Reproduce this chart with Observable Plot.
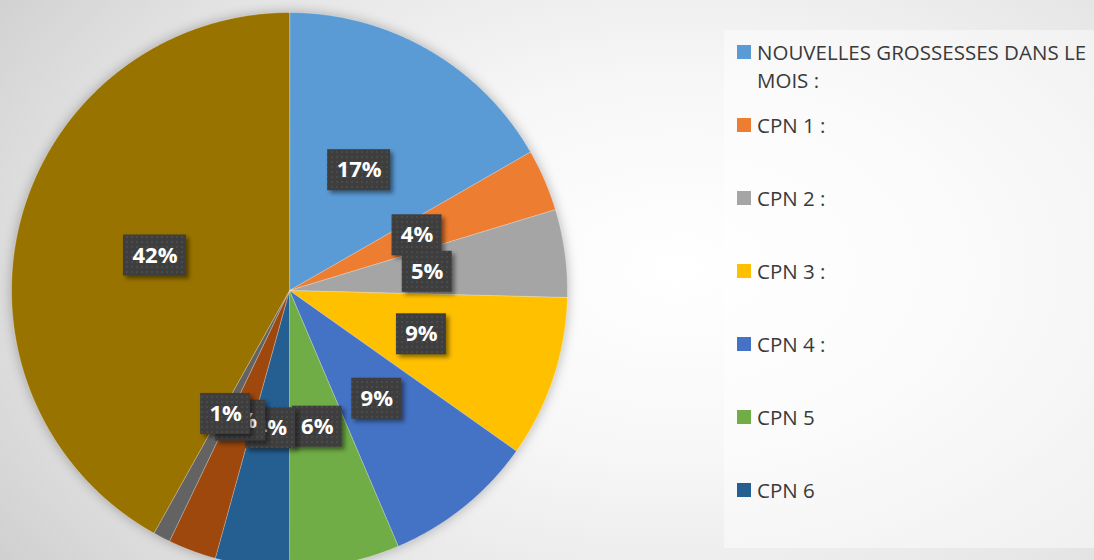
<!DOCTYPE html>
<html>
<head>
<meta charset="utf-8">
<script src="https://cdn.jsdelivr.net/npm/d3@7"></script>
<script src="https://cdn.jsdelivr.net/npm/@observablehq/plot@0.6"></script>
<style>
  html, body { margin: 0; padding: 0; }
  #wrap {
    position: relative; width: 1094px; height: 560px; overflow: hidden;
    background: radial-gradient(ellipse 75% 95% at 62% 48%, #ffffff 0%, #f7f7f7 35%, #e6e6e6 70%, #cfcfcf 100%);
    font-family: "Open Sans", sans-serif;
  }
  #chart { position: absolute; left: 0; top: 0; }
  #panel {
    position: absolute; left: 724px; top: 30px; width: 370px; height: 518px;
    background: rgba(255,255,255,0.45);
  }
  #legend { position: absolute; left: 0; top: 0; }
  .item { position: absolute; left: 737px; width: 340px; }
  .sw { position: absolute; left: 0; top: 7px; width: 14px; height: 14px; }
  .lbl { position: absolute; left: 20px; width: 337px; font-size: 20.5px; line-height: 28px; color: #3a3a3a; }
</style>
</head>
<body>
<div id="wrap">
  <div id="panel"></div>
  <div id="chart"></div>
  <div id="legend"></div>
</div>
<script>
const categories = ["NOUVELLES GROSSESSES DANS LE MOIS :", "CPN 1 :", "CPN 2 :", "CPN 3 :", "CPN 4 :", "CPN 5", "CPN 6", "CPN 7", "CPN 8", "CPN 9"];
const values = [16.7, 3.6, 5.1, 9.4, 8.8, 6.4, 4.3, 2.8, 1.0, 41.9];
const colors = ["#5B9BD5", "#ED7D31", "#A5A5A5", "#FFC000", "#4472C4", "#70AD47", "#255E91", "#9E480E", "#636363", "#997300"];
const legendVisibleCount = 7;

const total = d3.sum(values);
const data = categories.map((c, i) => ({cat: c, value: values[i]}));
const arcs = d3.pie().sort(null).value(d => d.value)(data);

// slice outlines in unit-circle coordinates (y up)
const pts = [];
for (const a of arcs) {
  const c = a.data.cat;
  pts.push({cat: c, x: 0, y: 0});
  const n = Math.max(2, Math.ceil((a.endAngle - a.startAngle) / 0.004));
  for (let k = 0; k <= n; k++) {
    const t = a.startAngle + (a.endAngle - a.startAngle) * k / n;
    pts.push({cat: c, x: Math.sin(t), y: Math.cos(t)});
  }
}

const R = 278;
const labels = arcs.map(a => {
  const m = (a.startAngle + a.endAngle) / 2;
  const txt = Math.round(a.data.value / total * 100) + "%";
  const hw = (13 * txt.length + 24) / 2 / R;
  const hh = 20.5 / R;
  const x = 0.5 * Math.sin(m), y = 0.5 * Math.cos(m);
  return {cat: a.data.cat, txt, x, y, x1: x - hw, x2: x + hw, y1: y - hh, y2: y + hh};
});

const labelMarks = labels.flatMap(l => [
  Plot.rect([l], {x1: "x1", x2: "x2", y1: "y1", y2: "y2", fill: "#404040"}),
  Plot.text([l], {x: "x", y: "y", text: "txt", fill: "white", fontSize: 22, fontWeight: "bold", fontFamily: "Open Sans", textAnchor: "middle", lineAnchor: "middle"})
]);

const plot = Plot.plot({
  width: 724,
  height: 560,
  margin: 0,
  x: {domain: [-1, 1], range: [289 - R, 289 + R], axis: null},
  y: {domain: [-1, 1], range: [290 + R, 290 - R], axis: null},
  color: {type: "ordinal", domain: categories, range: colors},
  style: {background: "transparent", overflow: "hidden"},
  marks: [
    Plot.line(pts, {x: "x", y: "y", z: "cat", fill: "cat", stroke: "#ffffff", strokeWidth: 0.6, strokeOpacity: 0.5, curve: "linear-closed"}),
    ...labelMarks
  ]
});
document.getElementById("chart").appendChild(plot);

// pie soft shadow and label box texture/shadow
const svg = d3.select(plot);
svg.select('g[aria-label="line"]').style("filter", "drop-shadow(0px 0px 6px rgba(0,0,0,0.28))");
const defs = svg.insert("defs", ":first-child");
const pat = defs.append("pattern").attr("id", "dots").attr("width", 5).attr("height", 5).attr("patternUnits", "userSpaceOnUse");
pat.append("rect").attr("width", 5).attr("height", 5).attr("fill", "#3e3e3e");
pat.append("rect").attr("x", 1).attr("y", 1).attr("width", 2).attr("height", 2).attr("fill", "#4a4a4a");
svg.selectAll('g[aria-label="rect"] rect').attr("fill", "url(#dots)").style("filter", "drop-shadow(3px 3px 2px rgba(0,0,0,0.45))");

// legend
const leg = d3.select("#legend");
categories.slice(0, legendVisibleCount).forEach((c, i) => {
  const it = leg.append("div").attr("class", "item").style("top", (38 + i * 73) + "px");
  it.append("div").attr("class", "sw").style("background", colors[i]);
  it.append("div").attr("class", "lbl").text(c);
});
</script>
</body>
</html>
